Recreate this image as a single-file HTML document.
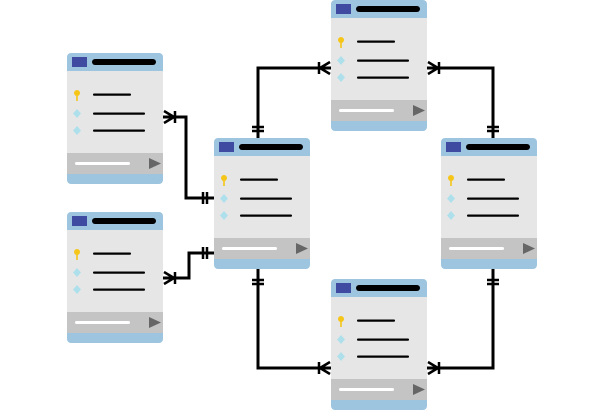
<!DOCTYPE html>
<html><head><meta charset="utf-8"><style>html,body{margin:0;padding:0;background:#fff;}svg{display:block}</style></head>
<body>
<svg width="600" height="410" viewBox="0 0 600 410" xmlns="http://www.w3.org/2000/svg">
<defs>
<g id="t">
  <rect x="0" y="0" width="96" height="131" rx="4" fill="#9ec5df"/>
  <rect x="0" y="18" width="96" height="82" fill="#e6e6e6"/>
  <rect x="0" y="100" width="96" height="21" fill="#c4c4c4"/>
  <rect x="5" y="4" width="15" height="10" fill="#3f4ba0"/>
  <rect x="25" y="6" width="64" height="6" rx="3" fill="#000"/>
  <circle cx="10" cy="40" r="3" fill="#f5c518"/>
  <rect x="9.2" y="40" width="1.6" height="8" fill="#f5c518"/>
  <rect x="26" y="40.5" width="38" height="2.2" rx="1" fill="#000"/>
  <rect x="26" y="59.5" width="52" height="2.2" rx="1" fill="#000"/>
  <rect x="26" y="76.5" width="52" height="2.2" rx="1" fill="#000"/>
  <path d="M10 56 L14 60.5 L10 65 L6 60.5Z" fill="#aee0ec"/>
  <path d="M10 73 L14 77.5 L10 82 L6 77.5Z" fill="#aee0ec"/>
  <rect x="8" y="109" width="55" height="3" rx="1.5" fill="#fff"/>
  <path d="M82 105 L94 110.5 L82 116Z" fill="#666"/>
</g>
</defs>
<g fill="none" stroke="#000" stroke-width="3">
  <path d="M163 117 H186 V198 H214"/>
  <path d="M163 278 H189 V253 H214"/>
  <path d="M258 138 V68 H331"/>
  <path d="M427 68 H493 V138"/>
  <path d="M258 269 V368 H331"/>
  <path d="M493 269 V368 H427"/>
</g>
<g stroke="#000" stroke-width="2.5" fill="none">
  <!-- crow's feet -->
  <path d="M174 117 L164 111 M174 117 L164 123 M175 111 V123"/>
  <path d="M174 278 L164 272 M174 278 L164 284 M175 272 V284"/>
  <path d="M320 68 L330 62 M320 68 L330 74 M319 62 V74"/>
  <path d="M438 68 L428 62 M438 68 L428 74 M439 62 V74"/>
  <path d="M320 368 L330 362 M320 368 L330 374 M319 362 V374"/>
  <path d="M438 368 L428 362 M438 368 L428 374 M439 362 V374"/>
  <!-- double bars -->
  <path d="M203 192 V204 M207 192 V204"/>
  <path d="M203 247 V259 M207 247 V259"/>
  <path d="M252 127 H264 M252 131 H264"/>
  <path d="M487 127 H499 M487 131 H499"/>
  <path d="M252 280 H264 M252 284 H264"/>
  <path d="M487 280 H499 M487 284 H499"/>
</g>
<use href="#t" x="67" y="53"/>
<use href="#t" x="67" y="212"/>
<use href="#t" x="214" y="138"/>
<use href="#t" x="331" y="0"/>
<use href="#t" x="441" y="138"/>
<use href="#t" x="331" y="279"/>
</svg>
</body></html>
